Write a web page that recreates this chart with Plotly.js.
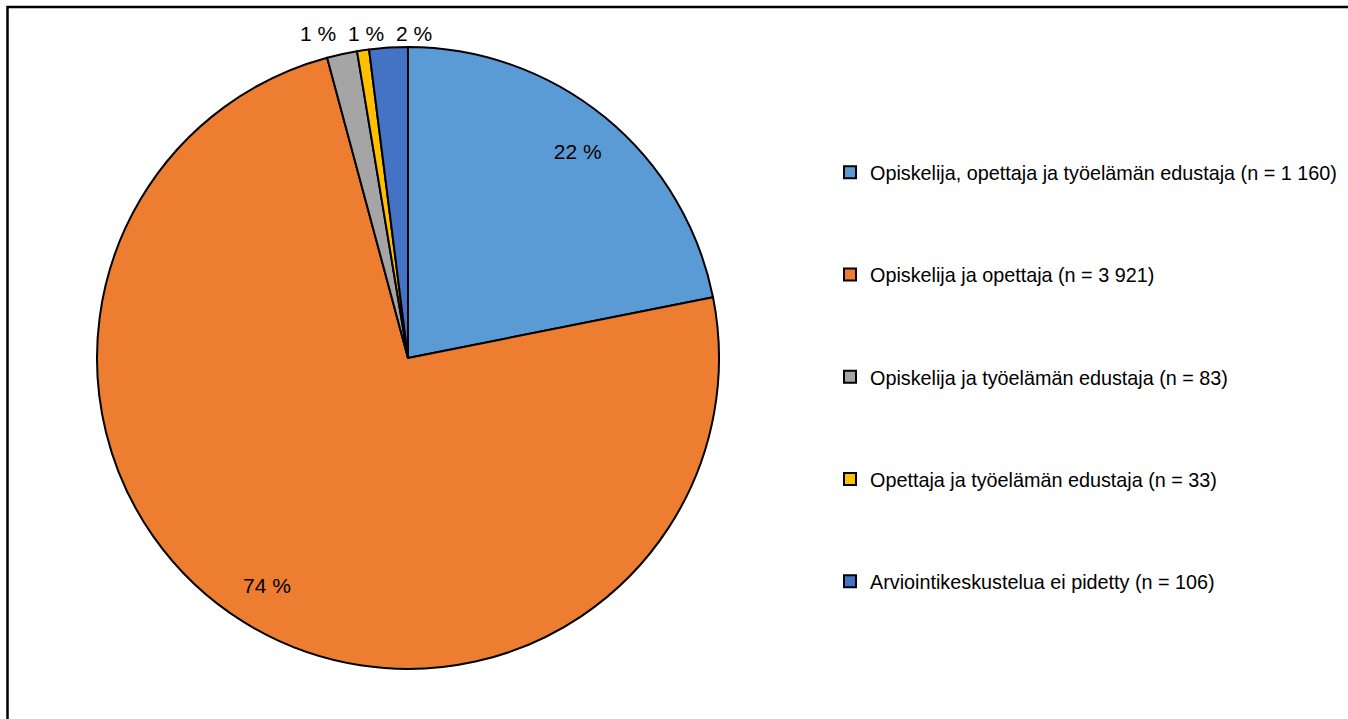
<!DOCTYPE html>
<html>
<head>
<meta charset="utf-8">
<script src="https://cdn.plot.ly/plotly-3.0.1.min.js"></script>
<style>
  html, body { margin: 0; padding: 0; background: #ffffff; }
  #chart { width: 1348px; height: 719px; }
</style>
</head>
<body>
<div id="chart"></div>
<script>
// ---- data ----
var categories = [
  'Opiskelija, opettaja ja työelämän edustaja (n = 1 160)',
  'Opiskelija ja opettaja (n = 3 921)',
  'Opiskelija ja työelämän edustaja (n = 83)',
  'Opettaja ja työelämän edustaja (n = 33)',
  'Arviointikeskustelua ei pidetty (n = 106)'
];
var counts = [1160, 3921, 83, 33, 106];
var percentLabels = ['22 %', '74 %', '1 %', '1 %', '2 %'];
var labelInside = [true, true, false, false, false];
var sliceColors = ['#5B9BD5', '#ED7D31', '#A5A5A5', '#FFC000', '#4472C4'];

var FONT = '"Liberation Sans Narrow", "Arial Narrow", "Liberation Sans", Arial, sans-serif';
var W = 1348, H = 719;
var dom = { x: [97 / W, 719 / W], y: [(H - 669) / H, (H - 47) / H] };

// main pie (slices)
var pie = {
  type: 'pie',
  labels: categories,
  values: counts,
  textinfo: 'none',
  sort: false,
  direction: 'clockwise',
  rotation: 0,
  marker: { colors: sliceColors, line: { color: '#000000', width: 2 } },
  showlegend: false,
  hoverinfo: 'label+value+percent',
  domain: dom
};

// label layer: same data, transparent ring so inside labels sit near the rim
var labelRing = {
  type: 'pie',
  labels: categories,
  values: counts,
  text: percentLabels.map(function (t, i) { return labelInside[i] ? t : ''; }),
  textinfo: 'text',
  textposition: 'inside',
  insidetextorientation: 'horizontal',
  hole: 0.72,
  sort: false,
  direction: 'clockwise',
  rotation: 0,
  marker: { colors: sliceColors.map(function () { return 'rgba(0,0,0,0)'; }), line: { width: 0 } },
  insidetextfont: { family: FONT, size: 21, color: '#000000' },
  showlegend: false,
  hoverinfo: 'skip',
  domain: dom
};

// legend entries (one per category, so each can be spaced like the original)
var legendTraces = categories.map(function (c, i) {
  return {
    type: 'scatter', mode: 'markers',
    x: [null], y: [null],
    name: c,
    legendgroup: 'g' + i,
    marker: { symbol: 'square', size: 12, color: sliceColors[i], line: { color: '#000000', width: 2 } },
    hoverinfo: 'skip',
    showlegend: true
  };
});

// outside labels for the thin slices: placed above the rim, spread side by side
var cx = (dom.x[0] + dom.x[1]) / 2 * W;
var R = (dom.x[1] - dom.x[0]) * W / 2;
var topY = (1 - dom.y[1]) * H;
var total = counts.reduce(function (a, b) { return a + b; }, 0);
var cum = 0, outside = [];
counts.forEach(function (v, i) {
  var mid = (cum + v / 2) / total * 2 * Math.PI;
  cum += v;
  if (!labelInside[i]) outside.push({ i: i, x: cx + R * Math.sin(mid) });
});
var meanX = outside.reduce(function (a, o) { return a + o.x; }, 0) / outside.length;
var pitch = 48;
var annotations = outside.map(function (o, k) {
  var px = meanX + 2 + (k - (outside.length - 1) / 2) * pitch;
  return {
    xref: 'paper', yref: 'paper',
    x: px / W, y: 1 - (topY - 14) / H,
    xanchor: 'center', yanchor: 'middle',
    text: percentLabels[o.i], showarrow: false,
    font: { family: FONT, size: 21, color: '#000000' }
  };
});

var layout = {
  width: W, height: H,
  margin: { l: 0, r: 0, t: 0, b: 0 },
  paper_bgcolor: '#ffffff',
  plot_bgcolor: '#ffffff',
  font: { family: FONT, color: '#000000' },
  xaxis: { visible: false },
  yaxis: { visible: false },
  showlegend: true,
  legend: {
    x: 830 / W, xanchor: 'left',
    y: 1 - 153 / H, yanchor: 'top',
    traceorder: 'grouped',
    tracegroupgap: 73.5,
    font: { family: FONT, size: 19.8, color: '#000000' },
    bgcolor: 'rgba(0,0,0,0)',
    borderwidth: 0
  },
  annotations: annotations,
  shapes: [{
    type: 'rect', xref: 'paper', yref: 'paper',
    x0: 7.5 / W, x1: 1.2, y0: -0.2, y1: 1 - 7 / H,
    line: { color: '#000000', width: 2.5 },
    fillcolor: 'rgba(0,0,0,0)'
  }]
};

Plotly.newPlot('chart', [pie, labelRing].concat(legendTraces), layout, { displayModeBar: false, staticPlot: true });
</script>
</body>
</html>
